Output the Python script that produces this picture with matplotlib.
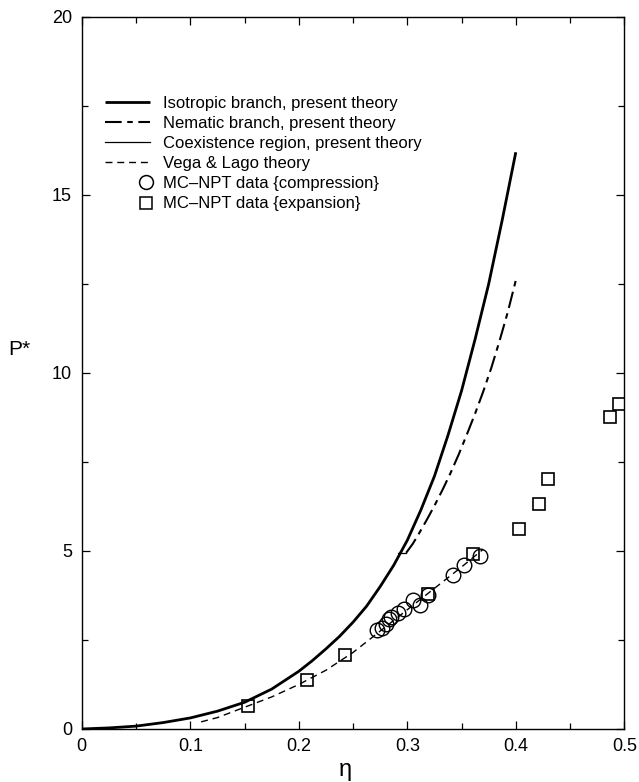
import numpy as np
import matplotlib
matplotlib.use('Agg')
import matplotlib.pyplot as plt
from matplotlib.lines import Line2D
from matplotlib.legend_handler import HandlerBase
from matplotlib.ticker import MultipleLocator

plt.rcParams['font.family'] = ['Liberation Sans', 'DejaVu Sans']
plt.rcParams['lines.scale_dashes'] = False

# Isotropic branch, present theory
iso_eta = [0.0, 0.025, 0.05, 0.075, 0.1, 0.125, 0.15, 0.175, 0.2, 0.2125,
           0.225, 0.2375, 0.25, 0.2625, 0.275, 0.2875, 0.3, 0.3125, 0.325,
           0.3375, 0.35, 0.3625, 0.375, 0.3875, 0.4]
iso_p = [0.0, 0.03, 0.08, 0.18, 0.31, 0.5, 0.75, 1.12, 1.62, 1.92,
         2.25, 2.6, 3.0, 3.45, 4.0, 4.6, 5.3, 6.15, 7.1,
         8.25, 9.5, 10.95, 12.5, 14.3, 16.2]

# Nematic branch, present theory
nem_eta = [0.299, 0.305, 0.31, 0.3175, 0.325, 0.3325, 0.34, 0.3475, 0.355,
           0.3625, 0.37, 0.3775, 0.385, 0.3925, 0.4]
nem_p = [4.95, 5.2, 5.45, 5.85, 6.27, 6.72, 7.2, 7.72, 8.28,
         8.86, 9.48, 10.15, 10.9, 11.7, 12.6]

# Coexistence region
coex_eta = [0.291, 0.299]
coex_p = [4.95, 4.95]

# Vega & Lago theory
vl_eta = [0.11, 0.125, 0.15, 0.175, 0.2, 0.225, 0.25, 0.275, 0.3, 0.325, 0.35, 0.37]
vl_p = [0.2, 0.32, 0.61, 0.9, 1.25, 1.65, 2.15, 2.75, 3.35, 3.95, 4.55, 5.05]

# MC-NPT compression
comp_eta = [0.272, 0.277, 0.28, 0.283, 0.285, 0.291, 0.297, 0.305, 0.312,
            0.319, 0.342, 0.352, 0.367]
comp_p = [2.78, 2.83, 2.95, 3.1, 3.15, 3.25, 3.37, 3.62, 3.48,
          3.76, 4.33, 4.6, 4.86]

# MC-NPT expansion
exp_eta = [0.153, 0.208, 0.243, 0.319, 0.361, 0.403, 0.421, 0.43, 0.487, 0.495]
exp_p = [0.65, 1.38, 2.08, 3.8, 4.92, 5.62, 6.33, 7.03, 8.75, 9.13]


class MarkerRight(HandlerBase):
    def create_artists(self, legend, orig_handle, xdescent, ydescent,
                       width, height, fontsize, trans):
        m = Line2D([width - xdescent - 3], [height / 2 - ydescent],
                   linestyle='none', marker=orig_handle.get_marker(),
                   markersize=orig_handle.get_markersize() * 0.95,
                   mfc='none', mec='k', mew=1.1)
        m.set_transform(trans)
        return [m]


fig = plt.figure(figsize=(6.39, 7.82), dpi=100)
ax = fig.add_axes([0.128, 0.0678, 0.849, 0.9105])

l1, = ax.plot(iso_eta, iso_p, color='k', lw=2.0, solid_capstyle='butt',
              label='Isotropic branch, present theory')
l2, = ax.plot(nem_eta, nem_p, color='k', lw=1.5, dashes=(12, 4, 4, 4),
              label='Nematic branch, present theory')
l3, = ax.plot(coex_eta, coex_p, color='k', lw=0.9,
              label='Coexistence region, present theory')
l4, = ax.plot(vl_eta, vl_p, color='k', lw=1.0, dashes=(5, 3.5),
              label='Vega & Lago theory')
l5, = ax.plot(comp_eta, comp_p, linestyle='none', marker='o', ms=10.5,
              mfc='none', mec='k', mew=1.0,
              label='MC\u2013NPT data {compression}')
l6, = ax.plot(exp_eta, exp_p, linestyle='none', marker='s', ms=8.5,
              mfc='none', mec='k', mew=1.2,
              label='MC\u2013NPT data {expansion}')

ax.set_xlim(0, 0.5)
ax.set_ylim(0, 20)
ax.xaxis.set_minor_locator(MultipleLocator(0.05))
ax.yaxis.set_major_locator(MultipleLocator(5))
ax.yaxis.set_minor_locator(MultipleLocator(2.5))
ax.set_xticks([0, 0.1, 0.2, 0.3, 0.4, 0.5])
ax.set_xticklabels(['0', '0.1', '0.2', '0.3', '0.4', '0.5'])
ax.tick_params(which='both', direction='in', top=True, right=True,
               labelsize=13, width=0.9)
ax.tick_params(which='major', length=5.5)
ax.tick_params(which='minor', length=4)
ax.tick_params(axis='x', pad=6.5)
ax.tick_params(axis='y', pad=7)
for s in ax.spines.values():
    s.set_linewidth(1.0)

ax.set_xlabel('\u03b7', fontsize=17)
ax.xaxis.set_label_coords(0.486, -0.042)
ax.set_ylabel('P*', fontsize=15, rotation=0)
ax.yaxis.set_label_coords(-0.115, 0.52)

leg = ax.legend(handles=[l1, l2, l3, l4, l5, l6], loc='upper left',
                bbox_to_anchor=(0.03, 0.899), frameon=False, fontsize=12,
                handlelength=2.7, handletextpad=0.78, labelspacing=0.31,
                borderaxespad=0.0,
                handler_map={l5: MarkerRight(), l6: MarkerRight()})

fig.savefig('out.png', dpi=100)
